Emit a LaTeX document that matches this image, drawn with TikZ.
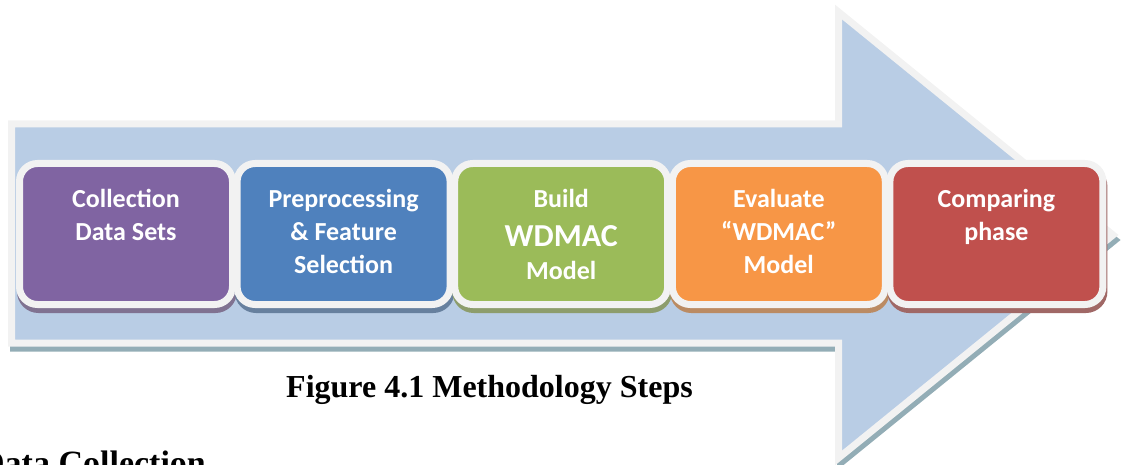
\documentclass[tikz,border=0pt]{standalone}
\usepackage{fontspec}
\setmainfont{Liberation Serif}
\newfontfamily\boxfont{Carlito}
\usetikzlibrary{shadows}
\definecolor{arrowblue}{HTML}{B9CDE5}
\definecolor{rimgray}{HTML}{F2F2F2}
\definecolor{rimshade}{HTML}{93ADB6}
\definecolor{purp}{HTML}{8064A2}
\definecolor{blu}{HTML}{4F81BD}
\definecolor{grn}{HTML}{9BBB59}
\definecolor{orng}{HTML}{F79646}
\definecolor{rd}{HTML}{C0504D}

\begin{document}
\begin{tikzpicture}[x=1pt, y=-1pt,
  stepbox/.style={draw=rimgray, line width=7pt, rounded corners=18pt,
    minimum width=213pt, minimum height=141pt, outer sep=0pt, inner sep=0pt},
  steptext/.style={text=white, align=center, anchor=north, inner sep=0pt,
    font=\boxfont\bfseries\fontsize{26}{33}\selectfont}]
\useasboundingbox (0,0) rectangle (1121,465);
\clip (0,0) rectangle (1121,465);
\draw[rimshade, fill=rimshade, line width=7pt, shift={(2,5)}] (11.5,124) -- (838.5,124) -- (838.5,12) -- (1113,235) -- (838.5,458) -- (838.5,343) -- (11.5,343) -- cycle;
\draw[rimgray, fill=arrowblue, line width=7pt] (11.5,124) -- (838.5,124) -- (838.5,12) -- (1113,235) -- (838.5,458) -- (838.5,343) -- (11.5,343) -- cycle;
\foreach \i/\c/\t in {0/purp/{Collection\\Data Sets},
  1/blu/{Preprocessing\\\& Feature\\Selection},
  2/grn/{Build\\[6pt]{\fontsize{32}{38}\selectfont WDMAC}\\Model},
  3/orng/{Evaluate\\“WDMAC”\\Model},
  4/rd/{Comparing\\phase}} {
 \node[stepbox, fill=\c, drop shadow={shadow xshift=1pt, shadow yshift=-5pt,
   fill=\c!50!gray, draw=\c!50!gray, line width=7pt, opacity=1}] (s\i) at ({126+217.6*\i},234) {};
 \node[steptext] (t\i) at ([yshift=-22.5pt]s\i.north) {\rule{0pt}{21pt}\t};
}
\node[font=\bfseries\fontsize{32}{38}\selectfont, anchor=base] (caption) at (489.5,397) {Figure 4.1 Methodology Steps};
\node[font=\bfseries\fontsize{34}{40}\selectfont, anchor=base west, inner sep=0pt] (heading) at (-20,474) {Data Collection};
\end{tikzpicture}
\end{document}
